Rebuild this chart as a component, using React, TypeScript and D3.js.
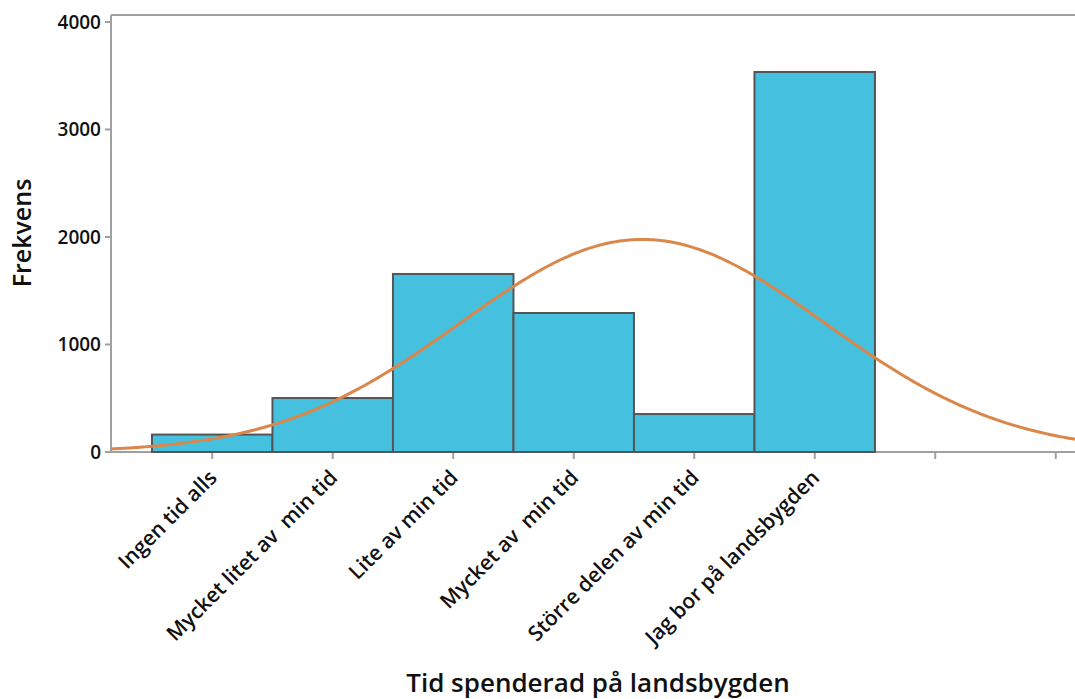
import React from "react";
import * as d3 from "d3";

const categories = [
  "Ingen tid alls",
  "Mycket litet av  min tid",
  "Lite av min tid",
  "Mycket av  min tid",
  "Större delen av min tid",
  "Jag bor på landsbygden",
];
const categoryCodes = [1, 2, 3, 4, 5, 6];
const frequencies = [162, 502, 1656, 1293, 353, 3535];
const xTickValues = [1, 2, 3, 4, 5, 6, 7, 8];
const yTickValues = [0, 1000, 2000, 3000, 4000];

const W = 1075;
const H = 699;
const left = 111;
const right = 1075;
const top = 15;
const bottom = 452;

export default function App() {
  const x = d3.scaleLinear().domain([0.16, 8.16]).range([left, right]);
  const y = d3.scaleLinear().domain([0, 4065]).range([bottom, top]);

  const N = d3.sum(frequencies);
  const mean = d3.sum(categoryCodes.map((c, i) => c * frequencies[i])) / N;
  const variance =
    d3.sum(categoryCodes.map((c, i) => (c - mean) ** 2 * frequencies[i])) / N;
  const sd = Math.sqrt(variance);
  const samples = d3.range(0.16, 8.17, 0.02);
  const curve = samples.map((v) => [
    v,
    (N / (sd * Math.sqrt(2 * Math.PI))) *
      Math.exp(-0.5 * ((v - mean) / sd) ** 2),
  ]);
  const line = d3
    .line<number[]>()
    .x((d) => x(d[0]))
    .y((d) => y(d[1]));

  const font = "'Open Sans', 'Noto Sans', sans-serif";
  const axisColor = "#a0a0a0";

  return (
    <svg
      width={W}
      height={H}
      style={{ position: "absolute", left: 0, top: 0, fontFamily: font }}
    >
      <rect x={0} y={0} width={W} height={H} fill="#fff" />
      <defs>
        <clipPath id="plot">
          <rect x={left} y={top} width={right - left} height={bottom - top} />
        </clipPath>
      </defs>
      {/* frame */}
      <line x1={left} x2={right} y1={top} y2={top} stroke={axisColor} strokeWidth={2} />
      <line x1={left} x2={left} y1={top} y2={bottom} stroke={axisColor} strokeWidth={2} />
      <line x1={left} x2={right} y1={bottom} y2={bottom} stroke={axisColor} strokeWidth={2} />
      {/* y ticks */}
      {yTickValues.map((t) => (
        <g key={t}>
          <line x1={left - 6} x2={left} y1={y(t)} y2={y(t)} stroke={axisColor} strokeWidth={2} />
          <text
            x={left - 10}
            y={y(t)}
            dy="0.36em"
            textAnchor="end"
            fontSize={19}
            fontWeight={600}
            fill="#111"
          >
            {t}
          </text>
        </g>
      ))}
      {/* x ticks */}
      {xTickValues.map((t) => (
        <line
          key={t}
          x1={x(t)}
          x2={x(t)}
          y1={bottom}
          y2={bottom + 7}
          stroke={axisColor}
          strokeWidth={2}
        />
      ))}
      {/* bars */}
      {frequencies.map((f, i) => (
        <rect
          key={i}
          x={x(categoryCodes[i] - 0.5)}
          y={y(f)}
          width={x(categoryCodes[i] + 0.5) - x(categoryCodes[i] - 0.5)}
          height={y(0) - y(f)}
          fill="#45c1df"
          stroke="#555"
          strokeWidth={2}
        />
      ))}
      {/* normal curve */}
      <path
        d={line(curve) || ""}
        fill="none"
        stroke="#d9874a"
        strokeWidth={3}
        clipPath="url(#plot)"
      />
      {/* x labels */}
      {categories.map((c, i) => {
        const px = x(categoryCodes[i]) + 6;
        const py = bottom + 27;
        return (
          <text
            key={c}
            x={px}
            y={py}
            transform={`rotate(-45 ${px} ${py})`}
            textAnchor="end"
            fontSize={21}
            fontWeight={600}
            fill="#111"
            style={{ whiteSpace: "pre" }}
          >
            {c}
          </text>
        );
      })}
      <text
        x={598}
        y={692}
        textAnchor="middle"
        fontSize={26}
        fontWeight={600}
        fill="#111"
      >
        Tid spenderad på landsbygden
      </text>
      <text
        transform={`translate(31 233) rotate(-90)`}
        textAnchor="middle"
        fontSize={25}
        fontWeight={600}
        fill="#111"
      >
        Frekvens
      </text>
    </svg>
  );
}
